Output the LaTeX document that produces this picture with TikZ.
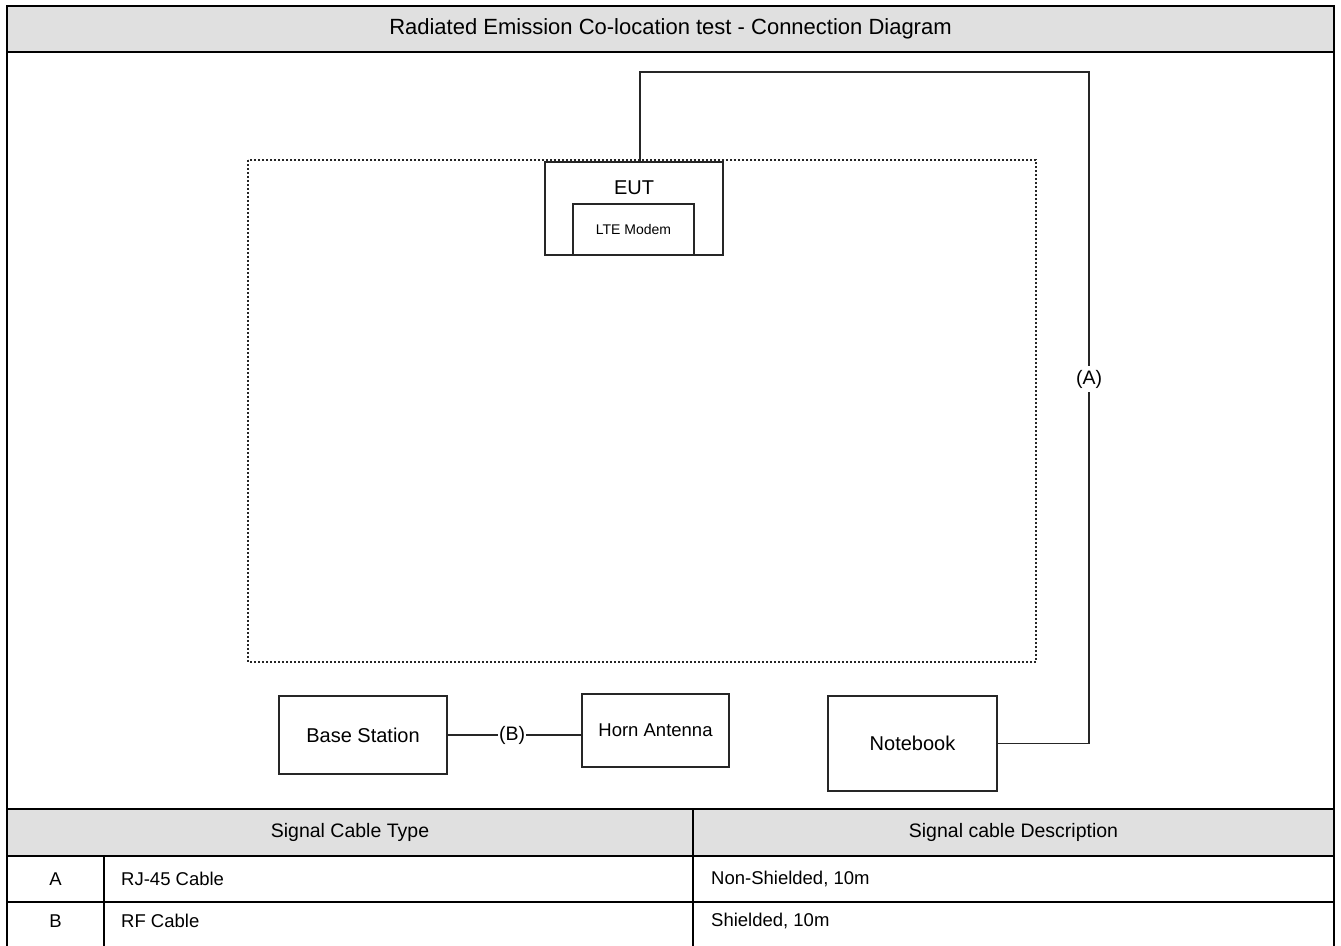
\documentclass[tikz,border=0pt]{standalone}
\usepackage{fontspec}
\setmainfont{Liberation Sans}
\begin{document}
\begin{tikzpicture}[x=1pt,y=-1pt,
  frame/.style={line width=2.6pt,draw=black},
  grid/.style={line width=2pt,draw=black},
  box/.style={draw=black!85,line width=1.3pt,fill=white,inner sep=0pt},
  cable/.style={draw=black!85,line width=1.3pt},
  txt/.style={font=\fontsize{18.5}{22}\selectfont,inner sep=1pt},
  big/.style={font=\fontsize{20}{24}\selectfont,inner sep=1pt},
  small/.style={font=\fontsize{14}{16}\selectfont,inner sep=1pt},
  lbl/.style={font=\fontsize{19.5}{23}\selectfont,fill=white,inner sep=1pt},
  hdr/.style={fill=black!12}
]
\useasboundingbox (0,0) rectangle (1341,945);
% title bar and table header fills
\fill[hdr] (7,6) rectangle (1334,52);
\fill[hdr] (7,809) rectangle (1334,856);
% test area (dotted)
\draw[line width=2.2pt,dash pattern=on 2pt off 2pt,black!85] (248,160) rectangle (1036,662);
% boxes
\node[box,minimum width=178pt,minimum height=93pt] (eut) at (634,208.5) {};
\node[big] (euttxt) at (634,188) {EUT};
\node[box,small,minimum width=121pt,minimum height=51pt] (lte) at (633.5,229.5) {LTE Modem};
\node[box,big,minimum width=168pt,minimum height=78pt] (bs) at (363,735) {Base Station};
\node[box,txt,minimum width=147pt,minimum height=73pt] (horn) at (655.5,730.5) {Horn Antenna};
\node[box,big,minimum width=169pt,minimum height=95pt] (nb) at (912.5,743.5) {Notebook};
% cables
\coordinate (a1) at (1089,72);
\coordinate (a2) at (640,72);
\draw[cable] (nb.east) -| (a1) -- (a2) -- (a2 |- eut.north);
\node[lbl,inner ysep=4pt] (la) at (1089,379) {(A)};
\draw[cable] (bs.east) -- (bs.east -| horn.west);
\node[lbl] (lb) at (512,735) {(B)};
% frame and table lines
\draw[frame] (7,6) rectangle (1334,947);
\draw[frame] (7,52) -- (1334,52);
\draw[frame] (7,809) -- (1334,809);
\draw[grid] (7,856) -- (1334,856);
\draw[grid] (7,902) -- (1334,902);
\draw[grid] (693,809) -- (693,947);
\draw[grid] (104,856) -- (104,947);
% texts
\node[txt,font=\fontsize{22}{26}\selectfont] (title) at (670.5,29) {Radiated Emission Co-location test - Connection Diagram};
\node[txt,font=\fontsize{19.5}{23}\selectfont] (h1) at (350,832.5) {Signal Cable Type};
\node[txt,font=\fontsize{19.5}{23}\selectfont] (h2) at (1013.5,832.5) {Signal cable Description};
\node[txt] (ra) at (55.5,879) {A};
\node[txt] (rb) at (55.5,921) {B};
\node[txt,anchor=west] (ta) at (120,879) {RJ-45 Cable};
\node[txt,anchor=west] (tb) at (120,921) {RF Cable};
\node[txt,anchor=west] (da) at (710,879) {Non-Shielded, 10m};
\node[txt,anchor=west] (db) at (710,921) {Shielded, 10m};
\end{tikzpicture}
\end{document}
